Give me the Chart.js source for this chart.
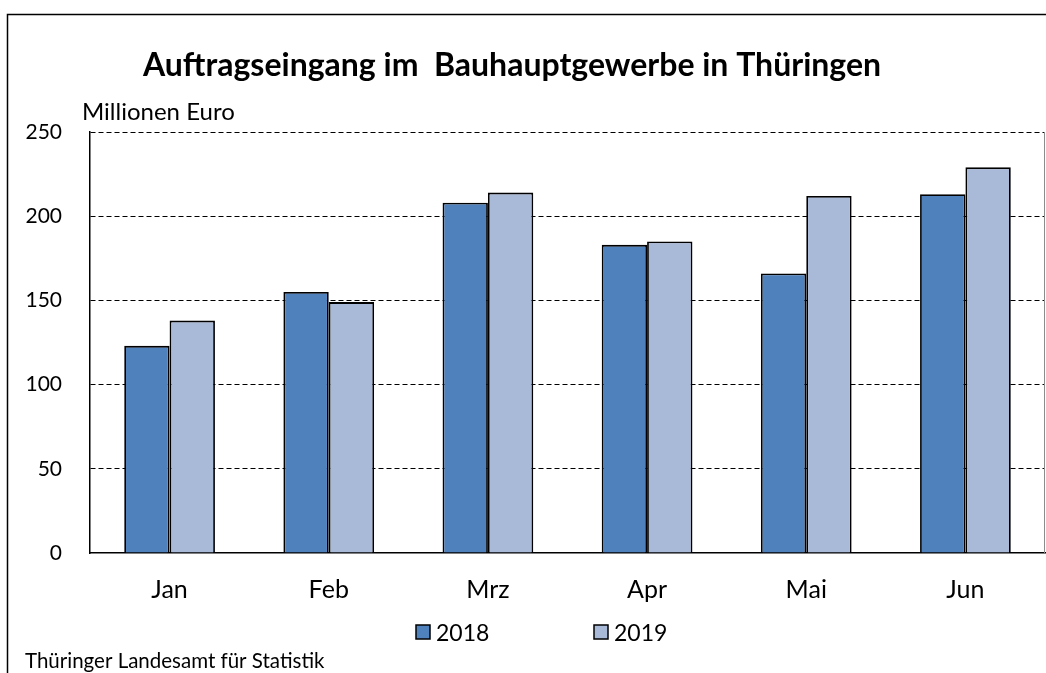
<!DOCTYPE html>
<html>
<head>
<meta charset="utf-8">
<script src="https://cdn.jsdelivr.net/npm/chart.js@4/dist/chart.umd.min.js"></script>
<style>
  html, body { margin: 0; padding: 0; background: #fff; }
  #wrap { width: 1046px; height: 673px; position: relative; }
</style>
</head>
<body>
<div id="wrap"><canvas id="auftragChart"></canvas></div>
<script>
// Daten
const months = ["Jan", "Feb", "Mrz", "Apr", "Mai", "Jun"];
const values2018 = [123, 155, 208, 183, 166, 213];
const values2019 = [138, 149, 214, 185, 212, 229];
const yTicks = [0, 50, 100, 150, 200, 250];

const FONT = "Lato, 'Liberation Sans', sans-serif";

// Rahmen, Titel, Einheit, Quelle und Legende
const framePlugin = {
    id: "frame",
    afterDraw(chart) {
        const ctx = chart.ctx;
        const area = chart.chartArea;
        ctx.save();
        // äußerer Rahmen
        ctx.strokeStyle = "#000";
        ctx.lineWidth = 1.5;
        ctx.beginPath();
        ctx.moveTo(7.5, 673);
        ctx.lineTo(7.5, 14.5);
        ctx.lineTo(1046, 14.5);
        ctx.stroke();
        // rechter Rand der Zeichenfläche
        ctx.strokeStyle = "#8c8c8c";
        ctx.lineWidth = 1;
        ctx.beginPath();
        ctx.moveTo(area.right - 0.5, area.top);
        ctx.lineTo(area.right - 0.5, area.bottom);
        ctx.stroke();

        ctx.fillStyle = "#000";
        ctx.textBaseline = "alphabetic";
        ctx.textAlign = "center";
        ctx.font = "bold 32px " + FONT;
        ctx.fillText("Auftragseingang im  Bauhauptgewerbe in Thüringen", 512, 76);

        ctx.textAlign = "left";
        ctx.font = "24px " + FONT;
        ctx.fillText("Millionen Euro", 82, 120);

        ctx.font = "20.5px " + FONT;
        ctx.fillText("Thüringer Landesamt für Statistik", 25, 668);

        // Legende
        const legendX = [416, 594];
        chart.data.datasets.forEach((ds, i) => {
            ctx.fillStyle = ds.backgroundColor;
            ctx.fillRect(legendX[i], 625, 14, 14);
            ctx.strokeStyle = "#000";
            ctx.lineWidth = 1.5;
            ctx.strokeRect(legendX[i], 625, 14, 14);
            ctx.fillStyle = "#000";
            ctx.font = "23px " + FONT;
            ctx.fillText(ds.label, legendX[i] + 20, 641);
        });
        ctx.restore();
    }
};

const ctx = document.getElementById("auftragChart").getContext("2d");
new Chart(ctx, {
    type: "bar",
    data: {
        labels: months,
        datasets: [
            {
                label: "2018",
                data: values2018,
                backgroundColor: "#4f81bd",
                borderColor: "#000",
                borderWidth: 1.8,
                borderSkipped: "bottom",
                categoryPercentage: 0.57,
                barPercentage: 1.0,
            },
            {
                label: "2019",
                data: values2019,
                backgroundColor: "#a9b9d8",
                borderColor: "#000",
                borderWidth: 1.8,
                borderSkipped: "bottom",
                categoryPercentage: 0.57,
                barPercentage: 1.0,
            },
        ],
    },
    options: {
        responsive: true,
        maintainAspectRatio: false,
        animation: false,
        layout: { padding: { top: 132, right: 1, bottom: 0, left: 0 } },
        plugins: {
            legend: { display: false },
            title: { display: false },
            tooltip: { enabled: false },
        },
        scales: {
            x: {
                grid: { display: false },
                border: { display: true, color: "#000", width: 1.5 },
                ticks: { color: "#000", font: { family: FONT, size: 25 }, padding: 14 },
                afterFit: (scale) => { scale.height = 120; },
            },
            y: {
                min: 0,
                max: 250,
                afterBuildTicks: (scale) => { scale.ticks = yTicks.map(v => ({ value: v })); },
                grid: {
                    color: (c) => c.tick.value === 0 ? "rgba(0,0,0,0)" : "#000",
                    lineWidth: 1,
                    drawTicks: false,
                },
                border: { display: true, color: "#000", width: 1.5, dash: [5, 3] },
                ticks: { color: "#000", font: { family: FONT, size: 21 }, padding: 28 },
                afterFit: (scale) => { scale.width = 90; },
            },
        },
    },
    plugins: [framePlugin],
});
</script>
</body>
</html>
